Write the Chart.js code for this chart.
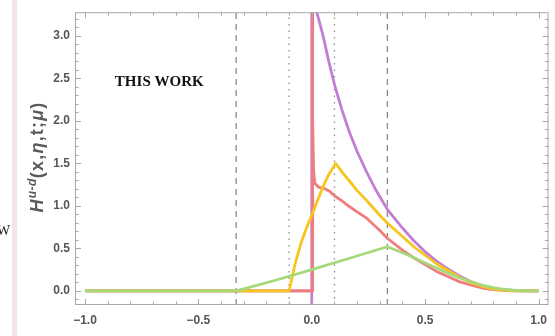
<!DOCTYPE html>
<html>
<head>
<meta charset="utf-8">
<script src="https://cdn.jsdelivr.net/npm/chart.js@4/dist/chart.umd.min.js"></script>
<style>
  html, body { margin: 0; padding: 0; background: #fff; }
  #wrap { position: relative; width: 555px; height: 336px; overflow: hidden; }
  #chart { position: absolute; left: 0; top: 0; }
  .stripe { position: absolute; left: 12px; top: 0; width: 5px; height: 336px; background: #f4e6e8; }
  .cut { position: absolute; left: -3px; top: 223px; font: 14px "Liberation Serif", serif; color: #222; }
  .ytitle {
    position: absolute; left: 36px; top: 157px; transform: translate(-50%, -50%) rotate(-90deg);
    white-space: nowrap; font: bold 18px "Liberation Sans", Arial, sans-serif; color: #5a5a5a;
    letter-spacing: 1.2px;
  }
  .ytitle sup { font-size: 12px; vertical-align: 7px; letter-spacing: 0.5px; }
</style>
</head>
<body>
<div id="wrap">
  <canvas id="chart" width="555" height="336"></canvas>
  <div class="stripe"></div>
  <div class="cut">W</div>
  <div class="ytitle"><i>H</i><sup><i>u</i>-<i>d</i></sup>(x,<i>η</i>,t;<i>μ</i>)</div>
</div>
<script>
// axes
const X_MIN = -1.044, X_MAX = 1.044;
const Y_MIN = -0.165, Y_MAX = 3.278;
const xTicks = [-1, -0.5, 0, 0.5, 1];
const yTicks = [0, 0.5, 1, 1.5, 2, 2.5, 3];
const dashedLines = [-1 / 3, 1 / 3];
const dottedLines = [-0.1, 0.1];

// curves as [x, H]
const greenPts = [
  [-1, 0], [-0.333, 0], [-0.167, 0.12], [0, 0.25], [0.167, 0.385], [0.333, 0.52],
  [0.4, 0.45], [0.444, 0.4], [0.5, 0.33], [0.55, 0.27], [0.6, 0.21], [0.65, 0.155],
  [0.7, 0.11], [0.75, 0.07], [0.8, 0.04], [0.85, 0.02], [0.9, 0.007], [0.95, 0.001], [1, 0],
];
const yellowPts = [
  [-1, 0], [-0.1, 0], [-0.09, 0.12], [-0.075, 0.3], [-0.05, 0.54], [-0.025, 0.73], [0, 0.89],
  [0.025, 1.06], [0.05, 1.23], [0.075, 1.37], [0.105, 1.5], [0.133, 1.4], [0.167, 1.29],
  [0.2, 1.18], [0.24, 1.07], [0.3, 0.89], [0.333, 0.8], [0.4, 0.64], [0.45, 0.52],
  [0.5, 0.42], [0.55, 0.32], [0.6, 0.24], [0.65, 0.165], [0.7, 0.1], [0.75, 0.055],
  [0.8, 0.025], [0.85, 0.008], [0.9, 0.002], [1, 0],
];
const redPts = [
  [-1, 0], [0.003, 0], [0.003, 30], [0.005, 2.0], [0.008, 1.42], [0.013, 1.27], [0.03, 1.22],
  [0.06, 1.2], [0.08, 1.17], [0.1, 1.12], [0.133, 1.06], [0.167, 0.99], [0.2, 0.93],
  [0.24, 0.86], [0.3, 0.71], [0.333, 0.62], [0.4, 0.48], [0.444, 0.4], [0.5, 0.31],
  [0.55, 0.23], [0.6, 0.17], [0.65, 0.11], [0.7, 0.07], [0.75, 0.035], [0.8, 0.015],
  [0.85, 0.005], [0.9, 0.001], [1, 0],
];
const purplePts = [
  [-1, 0], [0, 0], [0, -0.5], [0, 30], [0.008, 8], [0.012, 5], [0.02, 3.3], [0.035, 3.15],
  [0.05, 3.0], [0.075, 2.7], [0.1, 2.43], [0.133, 2.13], [0.167, 1.86], [0.2, 1.64],
  [0.24, 1.41], [0.28, 1.2], [0.333, 0.96], [0.4, 0.74], [0.45, 0.59], [0.5, 0.46],
  [0.55, 0.35], [0.6, 0.26], [0.65, 0.18], [0.7, 0.11], [0.75, 0.06], [0.8, 0.03],
  [0.85, 0.012], [0.9, 0.003], [0.95, 0], [1, 0],
];

const toXY = (pts) => pts.map(([x, y]) => ({ x, y }));

function curve(pts, color, order) {
  return { data: toXY(pts), borderColor: color, borderWidth: 2.8, pointRadius: 0, tension: 0,
    borderJoinStyle: 'round', order };
}
function refLine(x, dash) {
  return {
    data: [{ x, y: Y_MIN }, { x, y: Y_MAX }], borderColor: '#8a8a8a', borderWidth: 1.3,
    borderDash: dash, pointRadius: 0, order: 10,
  };
}

const fmt = (v) => (v < 0 ? '\u2212' : '') + Math.abs(v).toFixed(1);

// frame with inward ticks on all four sides, and the label
const framePlugin = {
  id: 'frame',
  afterDatasetsDraw(chart) {
    const { ctx, chartArea: a, scales: { x, y } } = chart;
    ctx.save();
    ctx.strokeStyle = '#a8a8a8';
    ctx.lineWidth = 1;
    ctx.strokeRect(a.left + 0.5, a.top + 0.5, a.right - a.left - 1, a.bottom - a.top - 1);
    ctx.beginPath();
    for (let i = -10; i <= 10; i++) {
      const v = i / 10;
      const len = i % 5 === 0 ? 6 : 3.5;
      const px = Math.round(x.getPixelForValue(v)) + 0.5;
      ctx.moveTo(px, a.bottom); ctx.lineTo(px, a.bottom - len);
      ctx.moveTo(px, a.top); ctx.lineTo(px, a.top + len);
    }
    for (let i = -1; i <= 32; i++) {
      const v = i / 10;
      const len = i % 5 === 0 ? 6 : 3.5;
      const py = Math.round(y.getPixelForValue(v)) + 0.5;
      ctx.moveTo(a.left, py); ctx.lineTo(a.left + len, py);
      ctx.moveTo(a.right, py); ctx.lineTo(a.right - len, py);
    }
    ctx.stroke();
    ctx.fillStyle = '#111';
    ctx.font = 'bold 15px "Liberation Serif", serif';
    ctx.textAlign = 'center';
    ctx.textBaseline = 'middle';
    ctx.fillText('THIS WORK', x.getPixelForValue(-0.6725), y.getPixelForValue(2.45));
    ctx.restore();
  },
};

new Chart(document.getElementById('chart'), {
  type: 'line',
  data: {
    datasets: [
      curve(greenPts, '#a5d97a', 1),
      curve(yellowPts, '#f7c51e', 2),
      curve(redPts, '#ef7d7d', 3),
      curve(purplePts, '#c27fd2', 4),
      ...dashedLines.map(v => refLine(v, [6, 5])),
      ...dottedLines.map(v => refLine(v, [1.5, 5])),
    ],
  },
  options: {
    responsive: false, animation: false, events: [],
    layout: { padding: { top: 2, right: 5, left: 0, bottom: 0 } },
    plugins: { legend: { display: false }, tooltip: { enabled: false } },
    scales: {
      x: {
        type: 'linear', min: X_MIN, max: X_MAX,
        grid: { display: false, drawTicks: false }, border: { display: false },
        afterBuildTicks: (s) => { s.ticks = xTicks.map(value => ({ value })); },
        afterFit: (s) => { s.height = 31; },
        ticks: { color: '#555', padding: 8, maxRotation: 0, autoSkip: false,
          font: { family: '"Liberation Sans", Arial, sans-serif', size: 12, weight: 'bold' }, callback: fmt },
      },
      y: {
        type: 'linear', min: Y_MIN, max: Y_MAX,
        grid: { display: false, drawTicks: false }, border: { display: false },
        afterBuildTicks: (s) => { s.ticks = yTicks.map(value => ({ value })); },
        afterFit: (s) => { s.width = 75; },
        ticks: { color: '#555', padding: 5, autoSkip: false,
          font: { family: '"Liberation Sans", Arial, sans-serif', size: 12, weight: 'bold' }, callback: fmt },
      },
    },
  },
  plugins: [framePlugin],
});
</script>
</body>
</html>
